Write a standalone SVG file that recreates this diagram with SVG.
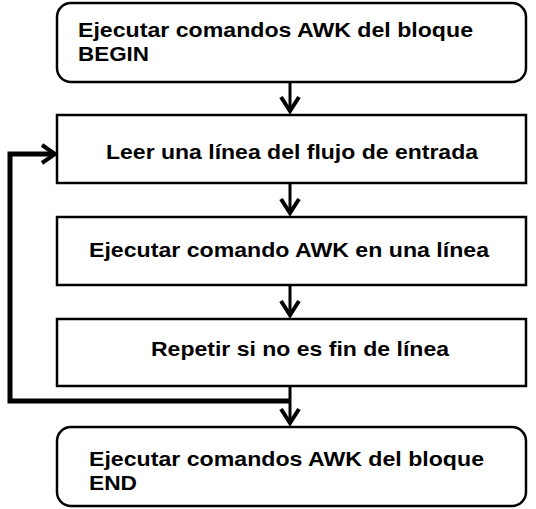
<svg xmlns="http://www.w3.org/2000/svg" width="536" height="509" viewBox="0 0 536 509">
<style>
.box{fill:#fff;stroke:#000;stroke-width:2.5}
.t{font-family:"Liberation Sans",Arial,sans-serif;font-weight:bold;font-size:20.5px;fill:#000}
.c{fill:none;stroke:#000;stroke-width:3}
.loop{fill:none;stroke:#000;stroke-width:5}
.head{fill:none;stroke:#000;stroke-width:4;stroke-linejoin:miter}
</style>
<rect width="536" height="509" fill="#fff"/>
<g id="n1">
<rect class="box" x="57" y="3" width="469" height="79" rx="14"/>
<text class="t" x="78" y="37" textLength="395" lengthAdjust="spacingAndGlyphs">Ejecutar comandos AWK del bloque</text>
<text class="t" x="78" y="61" textLength="71" lengthAdjust="spacingAndGlyphs">BEGIN</text>
</g>
<g id="n2">
<rect class="box" x="57" y="115" width="469" height="68"/>
<text class="t" x="106" y="159" textLength="372" lengthAdjust="spacingAndGlyphs">Leer una línea del flujo de entrada</text>
</g>
<g id="n3">
<rect class="box" x="57" y="217" width="469" height="68"/>
<text class="t" x="89" y="257" textLength="400" lengthAdjust="spacingAndGlyphs">Ejecutar comando AWK en una línea</text>
</g>
<g id="n4">
<rect class="box" x="57" y="319" width="469" height="67"/>
<text class="t" x="151" y="356" textLength="298" lengthAdjust="spacingAndGlyphs">Repetir si no es fin de línea</text>
</g>
<g id="n5">
<rect class="box" x="57" y="427" width="469" height="79" rx="14"/>
<text class="t" x="89" y="466" textLength="395" lengthAdjust="spacingAndGlyphs">Ejecutar comandos AWK del bloque</text>
<text class="t" x="89" y="490" textLength="48" lengthAdjust="spacingAndGlyphs">END</text>
</g>
<g id="connectors">
<line class="c" x1="290" y1="82" x2="290" y2="112"/>
<path class="head" d="M281,97 L290,111 L299,97"/>
<line class="c" x1="290" y1="183" x2="290" y2="214"/>
<path class="head" d="M281,199 L290,213 L299,199"/>
<line class="c" x1="290" y1="285" x2="290" y2="316"/>
<path class="head" d="M281,301 L290,315 L299,301"/>
<line class="c" x1="290" y1="386" x2="290" y2="424"/>
<path class="head" d="M281,409 L290,423 L299,409"/>
<polyline class="loop" points="290,401 10,401 10,154 54,154"/>
<path class="head" d="M42,145 L55,154 L42,163"/>
</g>
</svg>
